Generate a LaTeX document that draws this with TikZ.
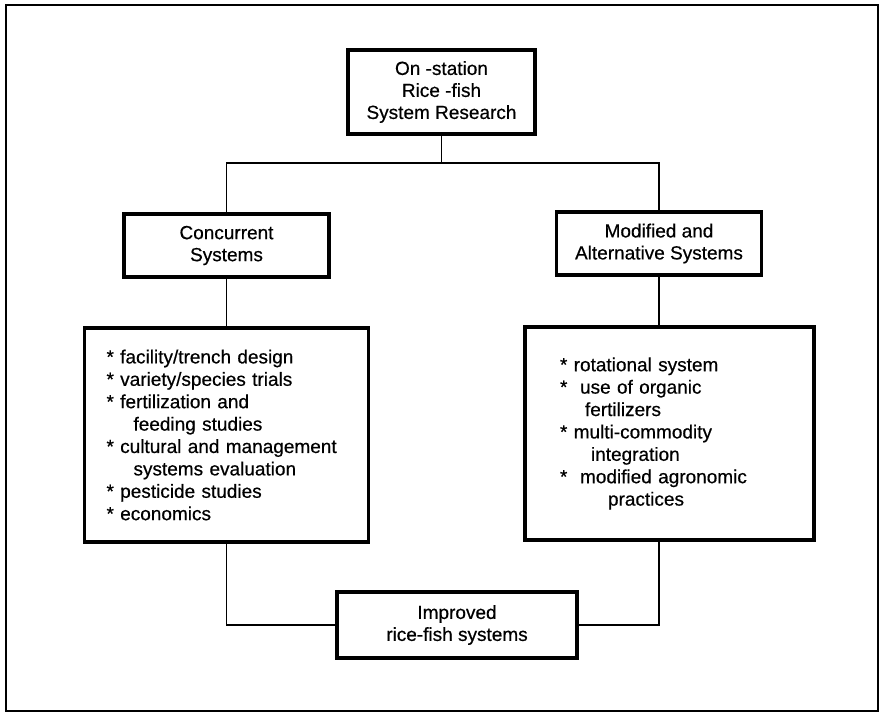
\documentclass[tikz,border=0pt]{standalone}
\usepackage{fontspec}
\setmainfont{Liberation Sans}[FakeBold=0.5]
\usetikzlibrary{positioning}
\newcommand{\bul}{*}

\begin{document}
\begin{tikzpicture}[x=1pt,y=-1pt,
  sysbox/.style={draw,line width=3.2pt,align=center,inner sep=0pt,
    font=\fontsize{19}{22}\selectfont},
  listbox/.style={sysbox,align=left,inner ysep=0pt,
    font=\fontsize{19}{22.4}\selectfont},
  link/.style={line width=1.4pt}]
  \useasboundingbox (0,0) rectangle (880,712);
  \draw[line width=2pt] (6,5) rectangle (878,711);

  \node[sysbox,minimum width=187pt,minimum height=84pt] (research) at (441.5,92)
    {On -station\\Rice -fish\\System Research};
  \node[sysbox,minimum width=205pt,minimum height=63pt] (concurrent) at (226.5,245.5)
    {Concurrent\\Systems};
  \node[sysbox,minimum width=205pt,minimum height=63pt] (modified) at (659,243.5)
    {Modified and\\Alternative Systems};
  \node[listbox,inner xsep=22pt,text width=240pt,minimum height=214pt] (conclist) at (226.5,435)
    {\bul\ facility/trench design\\{}\bul\ variety/species trials\\{}\bul\ fertilization and\\
     \hspace*{27pt}feeding studies\\{}\bul\ cultural and management\\
     \hspace*{27pt}systems evaluation\\{}\bul\ pesticide studies\\{}\bul\ economics};
  \node[listbox,inner xsep=35pt,text width=219pt,minimum height=213pt] (modlist) at (669.5,433.5)
    {\bul\ rotational system\\{}\bul\ \ use of organic\\
     \hspace*{25pt}fertilizers\\{}\bul\ multi-commodity\\
     \hspace*{31pt}integration\\{}\bul\ \ modified agronomic\\
     \hspace*{48pt}practices};
  \node[sysbox,minimum width=240pt,minimum height=66pt] (improved) at (457,625)
    {Improved\\rice-fish systems};

  \coordinate (split) at (441.5,163);
  \draw[link] (research) -- (split);
  \draw[link] (concurrent) |- (split) -| (modified);
  \draw[link] (concurrent) -- (conclist);
  \draw[link] (modified.south) -- (modified.south |- modlist.north);
  \draw[link] (conclist) |- (improved);
  \draw[link] (modlist.south -| modified) |- (improved);
\end{tikzpicture}
\end{document}
